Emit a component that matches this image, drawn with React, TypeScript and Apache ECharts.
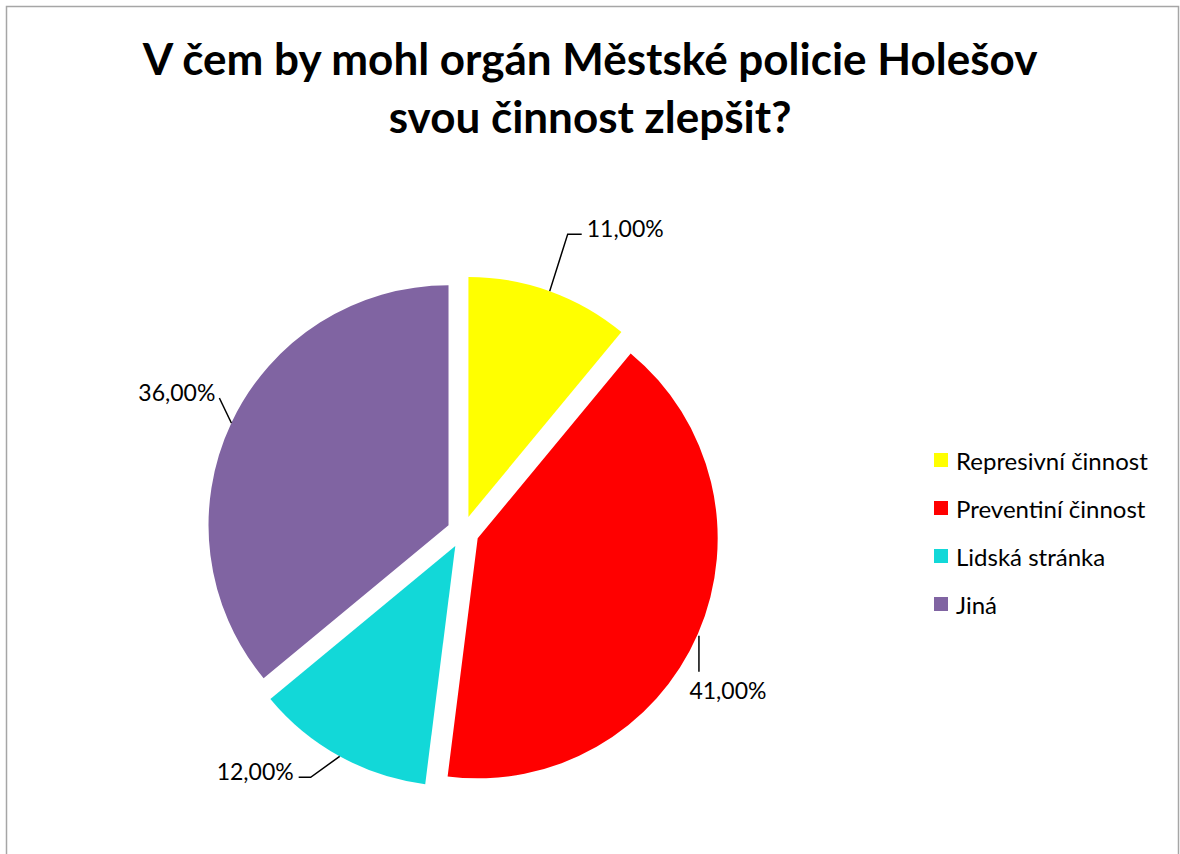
import React, { useEffect, useRef } from "react";
import * as echarts from "echarts";

const categories = ["Represivní činnost", "Preventiní činnost", "Lidská stránka", "Jiná"];
const values = [11, 41, 12, 36];
const colors = ["#FFFF00", "#FF0000", "#12D8D8", "#8064A2"];
const titleLines = ["V čem by mohl orgán Městské policie Holešov", "svou činnost zlepšit?"];

// layout / style constants
const CENTER = [463, 532];
const RADIUS = 240;
const OFFSET = 16;
const FONT = "Lato, 'Noto Sans', sans-serif";

// leader line shapes relative to each slice's outer edge point (style only)
const leaderStyles = [
  { start: [0, 0], bend: [18, -57], tail: [14, 0], label: [5, -6], align: "left" },
  { start: [1, 2], bend: [0, 36], tail: [0, 0], label: [30, 56], align: "center" },
  { start: [0, 0], bend: [-29, 21], tail: [-12, 0], label: [-5, -6], align: "right" },
  { start: [0, 0], bend: [-12, -25], tail: [0, 0], label: [-4, -6], align: "right" },
];

const fmt = (v: number) => v.toFixed(2).replace(".", ",") + "%";

export default function App() {
  const ref = useRef<HTMLDivElement>(null);
  useEffect(() => {
    if (!ref.current) return;
    const chart = echarts.init(ref.current, null, { renderer: "svg" });
    const total = values.reduce((a, b) => a + b, 0);
    const mids: number[] = [];
    let cum = 0;
    values.forEach((v) => {
      mids.push(((cum + v / 2) / total) * 2 * Math.PI);
      cum += v;
    });

    const option: any = {
      animation: false,
      backgroundColor: "#ffffff",
      graphic: [
        {
          type: "rect",
          silent: true,
          z: -10,
          shape: { x: 6.5, y: 6.5, width: 1172, height: 900 },
          style: { fill: "none", stroke: "#a6a6a6", lineWidth: 1.5 },
        },
      ],
      title: {
        text: titleLines.join("\n"),
        left: "center",
        top: 24,
        textStyle: {
          fontFamily: FONT,
          fontWeight: "bold",
          fontSize: 44,
          lineHeight: 58,
          color: "#000000",
        },
      },
      legend: {
        orient: "vertical",
        left: 934,
        top: 448,
        padding: 0,
        itemWidth: 14,
        itemHeight: 14,
        itemGap: 24,
        icon: "rect",
        selectedMode: false,
        data: categories.map((name, i) => ({ name, itemStyle: { color: colors[i] } })),
        textStyle: {
          fontFamily: FONT,
          fontSize: 24,
          lineHeight: 24,
          color: "#000000",
          padding: [0, 0, 0, 3],
        },
      },
      series: [
        {
          type: "pie",
          center: CENTER,
          radius: RADIUS,
          startAngle: 90,
          clockwise: true,
          selectedMode: "multiple",
          selectedOffset: OFFSET,
          emphasis: { disabled: true },
          data: categories.map((name, i) => ({
            name,
            value: values[i],
            selected: true,
            itemStyle: { color: colors[i] },
          })),
          label: { show: false },
          labelLine: { show: false },
        },
        {
          // transparent twin of the pie, used only to carry the data labels
          type: "pie",
          center: CENTER,
          radius: RADIUS,
          startAngle: 90,
          clockwise: true,
          silent: true,
          selectedMode: false,
          emphasis: { disabled: true },
          z: 5,
          data: categories.map((name, i) => ({
            name,
            value: values[i],
            itemStyle: { color: "rgba(0,0,0,0)" },
          })),
          label: {
            show: true,
            position: "outside",
            formatter: (p: any) => fmt(p.value),
            fontFamily: FONT,
            fontSize: 23,
            color: "#000000",
          },
          labelLine: {
            show: true,
            length: 20,
            length2: 10,
            lineStyle: { color: "#000000", width: 1.5 },
          },
          labelLayout: (params: any) => {
            const i = params.dataIndex;
            const a = mids[i];
            const dx = Math.sin(a);
            const dy = -Math.cos(a);
            const ex = CENTER[0] + (OFFSET + RADIUS) * dx;
            const ey = CENTER[1] + (OFFSET + RADIUS) * dy;
            const s = leaderStyles[i];
            const p0 = [ex + s.start[0], ey + s.start[1]];
            const p1 = [p0[0] + s.bend[0], p0[1] + s.bend[1]];
            const p2 = [p1[0] + s.tail[0], p1[1] + s.tail[1]];
            return {
              x: i === 1 ? ex + s.label[0] : p2[0] + s.label[0],
              y: i === 1 ? ey + s.label[1] : p2[1] + s.label[1],
              align: s.align,
              verticalAlign: "middle",
              labelLinePoints: [p0, p1, p2],
            };
          },
        },
      ],
    };
    chart.setOption(option);
    return () => chart.dispose();
  }, []);
  return (
    <div
      ref={ref}
      style={{ position: "absolute", left: 0, top: 0, width: 1180, height: 854 }}
    />
  );
}
